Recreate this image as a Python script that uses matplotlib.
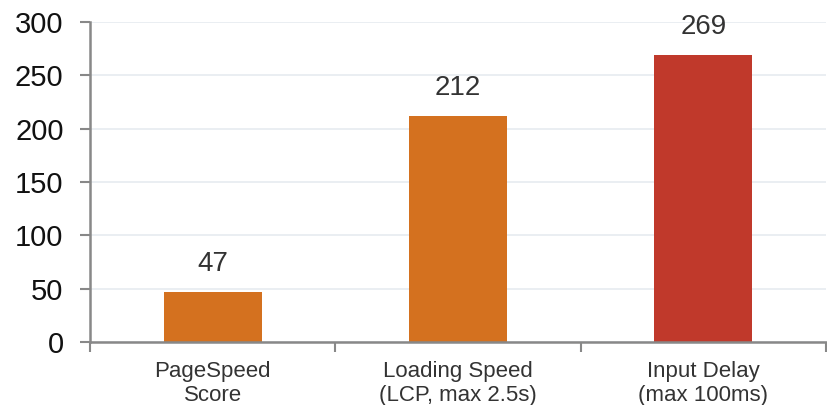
import matplotlib
matplotlib.use("Agg")
import matplotlib.pyplot as plt
from matplotlib.ticker import FixedLocator

categories = ["PageSpeed\nScore", "Loading Speed\n(LCP, max 2.5s)", "Input Delay\n(max 100ms)"]
values = [47, 212, 269]
colors = ["#D4711F", "#D4711F", "#C0392B"]
yticks = [0, 50, 100, 150, 200, 250, 300]

plt.rcParams['font.family'] = ['Liberation Sans', 'DejaVu Sans']

fig = plt.figure(figsize=(8.28, 4.05), dpi=100)
ax = fig.add_axes([0.1087, 0.1556, 0.889, 0.790])

x = list(range(len(categories)))
bars = ax.bar(x, values, width=0.4, color=colors, zorder=3)
for xi, v in zip(x, values):
    ax.annotate(str(v), (xi, v), xytext=(0, 11), textcoords="offset points",
                ha="center", va="bottom", fontsize=20, color="#333333")

ax.set_xlim(-0.5, len(categories) - 0.5)
ax.set_ylim(0, 300)
ax.set_yticks(yticks)
ax.set_yticklabels([str(t) for t in yticks])
ax.set_xticks(x)
ax.set_xticklabels(categories, linespacing=1.15)
ax.xaxis.set_minor_locator(FixedLocator([-0.5, 0.5, 1.5, 2.5]))
ax.tick_params(axis="x", which="major", length=0, pad=14, labelsize=16, labelcolor="#333333")
ax.tick_params(axis="x", which="minor", length=7, width=1.5, color="#888888")
ax.tick_params(axis="y", length=7, width=1.5, color="#888888", pad=12, labelsize=21, labelcolor="#111111")

ax.grid(axis="y", color="#E6EBF0", linewidth=1.2, zorder=0)
ax.set_axisbelow(True)
for s in ["top", "right"]:
    ax.spines[s].set_visible(False)
for s in ["left", "bottom"]:
    ax.spines[s].set_color("#888888")
    ax.spines[s].set_linewidth(1.8)
    ax.spines[s].set_zorder(4)

fig.savefig("out.png", dpi=100)
